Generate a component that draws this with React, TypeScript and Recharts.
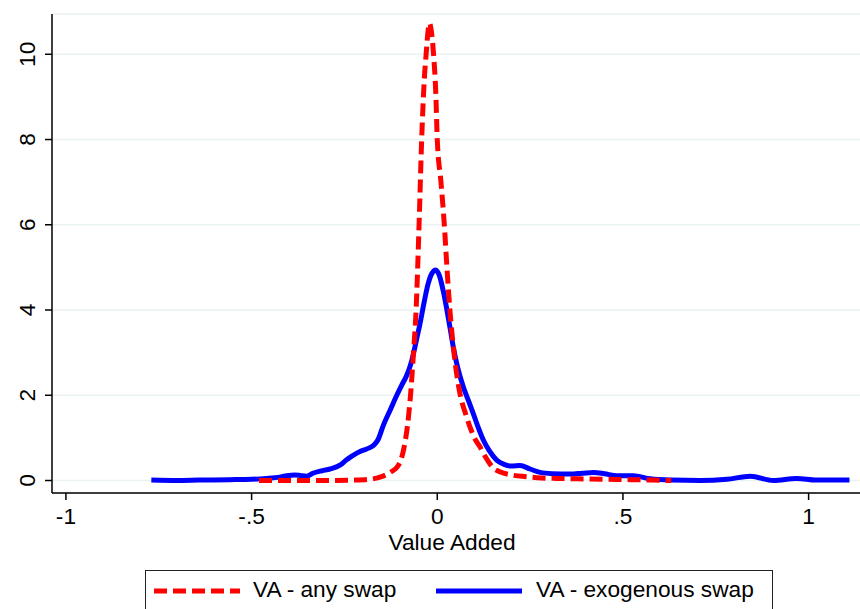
import React from "react";
import {
  LineChart,
  Line,
  XAxis,
  YAxis,
  CartesianGrid,
  Label,
} from "recharts";

// kernel density, VA - any swap (red dashed)
const anySwapX = [
  -0.48, -0.4, -0.3, -0.22, -0.18, -0.15, -0.125, -0.105, -0.09, -0.08, -0.072,
  -0.064, -0.057, -0.049, -0.042, -0.035, -0.03, -0.024, -0.021, -0.016, -0.01,
  -0.004, 0.0, 0.01, 0.019, 0.026, 0.034, 0.045, 0.062, 0.075, 0.088, 0.1,
  0.115, 0.13, 0.15, 0.17, 0.2, 0.24, 0.28, 0.32, 0.38, 0.45, 0.52, 0.58, 0.63,
];
const anySwapDensity = [
  0.0, 0.0, 0.0, 0.01, 0.03, 0.09, 0.2, 0.35, 0.75, 1.3, 2.0,
  3.0, 4.0, 6.0, 8.0, 9.4, 10.0, 10.6, 10.73, 10.55, 10.0,
  9.1, 8.0, 7.0, 6.0, 5.0, 4.0, 3.0, 2.0, 1.6, 1.26, 1.0,
  0.79, 0.55, 0.3, 0.2, 0.13, 0.09, 0.06, 0.05, 0.04, 0.03, 0.02, 0.01, 0.0,
];

// kernel density, VA - exogenous swap (blue solid)
const exoSwapX = [
  -0.77, -0.7, -0.64, -0.56, -0.5, -0.46, -0.424, -0.4, -0.385, -0.37, -0.352,
  -0.335, -0.31, -0.289, -0.262, -0.245, -0.23, -0.208, -0.19, -0.172, -0.16,
  -0.145, -0.127, -0.109, -0.095, -0.083, -0.069, -0.056, -0.046, -0.035,
  -0.025, -0.015, -0.004, 0.006, 0.016, 0.026, 0.035, 0.043, 0.055, 0.07,
  0.085, 0.097, 0.11, 0.124, 0.14, 0.16, 0.18, 0.2, 0.223, 0.25, 0.277, 0.31,
  0.358, 0.39, 0.421, 0.45, 0.484, 0.528, 0.573, 0.63, 0.708, 0.78, 0.843,
  0.905, 0.968, 1.022, 1.11,
];
const exoSwapDensity = [
  0.01, 0.0, 0.01, 0.02, 0.03, 0.05, 0.08, 0.12, 0.13, 0.12, 0.1,
  0.17, 0.23, 0.27, 0.36, 0.48, 0.57, 0.68, 0.74, 0.82, 0.95,
  1.3, 1.65, 2.0, 2.25, 2.45, 2.8, 3.3, 3.7, 4.2,
  4.6, 4.85, 4.94, 4.8, 4.45, 4.0, 3.55, 3.14, 2.65, 2.2,
  1.85, 1.57, 1.25, 0.95, 0.7, 0.48, 0.38, 0.34, 0.35, 0.27, 0.19, 0.16,
  0.15, 0.17, 0.19, 0.16, 0.11, 0.11, 0.04, 0.01, 0.0, 0.03, 0.1,
  0.0, 0.05, 0.01, 0.01,
];

const xTicks = [-1, -0.5, 0, 0.5, 1];
const xTickLabels = ["-1", "-.5", "0", ".5", "1"];
const yTicks = [0, 2, 4, 6, 8, 10];

const seriesNames = ["VA - any swap", "VA - exogenous swap"];

const anyData = anySwapX.map((x, i) => ({ x, density: anySwapDensity[i] }));
const exoData = exoSwapX.map((x, i) => ({ x, density: exoSwapDensity[i] }));

const FONT = "'Liberation Sans', Arial, sans-serif";
const FS = 22.7;
const RED = "#ff0000";
const BLUE = "#0000ff";

const YTick = ({ x, y, payload }: any) => (
  <text
    x={x - 16}
    y={y}
    transform={`rotate(-90, ${x - 16}, ${y})`}
    textAnchor="middle"
    dominantBaseline="central"
    fontSize={FS}
    fontFamily={FONT}
    fill="#000"
  >
    {payload.value}
  </text>
);

const XTick = ({ x, y, payload }: any) => {
  const i = xTicks.indexOf(payload.value);
  return (
    <text
      x={x}
      y={y + 22}
      textAnchor="middle"
      fontSize={FS}
      fontFamily={FONT}
      fill="#000"
    >
      {i >= 0 ? xTickLabels[i] : payload.value}
    </text>
  );
};

export default function App() {
  return (
    <div
      style={{
        position: "absolute",
        left: 0,
        top: 0,
        width: 860,
        height: 609,
        overflow: "hidden",
        background: "#fff",
      }}
    >
      <LineChart
        width={860}
        height={609}
        margin={{ top: 14, right: 0, left: 0, bottom: 0 }}
      >
        <CartesianGrid
          horizontal={true}
          vertical={false}
          stroke="#eaf2f3"
          strokeWidth={1.5}
        />
        <XAxis
          type="number"
          dataKey="x"
          domain={[-1.0375, 1.1384]}
          ticks={xTicks}
          allowDataOverflow
          height={116}
          tickSize={7}
          tickMargin={2}
          tick={<XTick />}
          axisLine={{ stroke: "#000", strokeWidth: 1.5 }}
          tickLine={{ stroke: "#000", strokeWidth: 1.5 }}
        >
          <Label
            content={({ viewBox }: any) => (
              <text
                x={452}
                y={viewBox.y + 57}
                textAnchor="middle"
                fontSize={FS}
                fontFamily={FONT}
                fill="#000"
              >
                Value Added
              </text>
            )}
          />
        </XAxis>
        <YAxis
          type="number"
          domain={[-0.293, 10.945]}
          ticks={yTicks}
          allowDataOverflow
          width={52}
          tickSize={7}
          tickMargin={2}
          tick={<YTick />}
          axisLine={{ stroke: "#000", strokeWidth: 1.5 }}
          tickLine={{ stroke: "#000", strokeWidth: 1.5 }}
        />
        <Line
          data={exoData}
          dataKey="density"
          name={seriesNames[1]}
          type="monotone"
          stroke={BLUE}
          strokeWidth={5}
          dot={false}
          activeDot={false}
          isAnimationActive={false}
        />
        <Line
          data={anyData}
          dataKey="density"
          name={seriesNames[0]}
          type="monotone"
          stroke={RED}
          strokeWidth={5}
          strokeDasharray="13 6"
          dot={false}
          activeDot={false}
          isAnimationActive={false}
        />
      </LineChart>

      {/* legend box, cut off by the bottom edge like the original */}
      <div
        style={{
          position: "absolute",
          left: 145,
          top: 570,
          width: 628,
          height: 60,
          border: "1.5px solid #222",
          boxSizing: "border-box",
          fontFamily: FONT,
          fontSize: FS,
          color: "#000",
        }}
      >
        <svg
          width={86}
          height={10}
          style={{ position: "absolute", left: 8, top: 15 }}
        >
          <line
            x1={0}
            y1={5}
            x2={86}
            y2={5}
            stroke={RED}
            strokeWidth={5}
            strokeDasharray="13 6"
          />
        </svg>
        <span style={{ position: "absolute", left: 107, top: 5, whiteSpace: "nowrap" }}>
          {seriesNames[0]}
        </span>
        <svg
          width={86}
          height={10}
          style={{ position: "absolute", left: 290, top: 15 }}
        >
          <line x1={0} y1={5} x2={86} y2={5} stroke={BLUE} strokeWidth={5} />
        </svg>
        <span style={{ position: "absolute", left: 390, top: 5, whiteSpace: "nowrap" }}>
          {seriesNames[1]}
        </span>
      </div>
    </div>
  );
}
